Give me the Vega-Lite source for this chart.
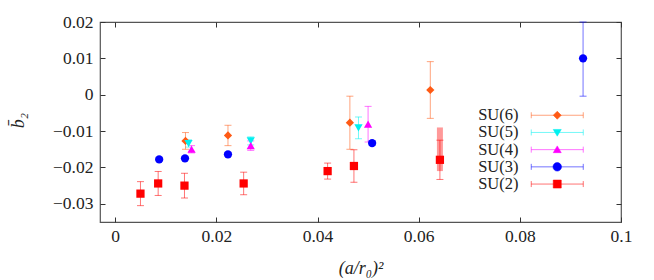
{
  "$schema": "https://vega.github.io/schema/vega-lite/v6.json",
  "width": 521,
  "height": 200,
  "autosize": {"type": "none"},
  "padding": {"left": 100, "top": 22, "right": 33, "bottom": 58},
  "background": "white",
  "config": {
    "view": {"stroke": "#555", "strokeWidth": 1.2},
    "font": "Liberation Serif",
    "axis": {"grid": false, "domain": false, "labelFont": "Liberation Serif", "titleFont": "Liberation Serif", "labelFontSize": 17.5, "titleFontSize": 18, "titleFontWeight": "normal", "labelColor": "#222", "titleColor": "#222", "tickColor": "#333", "labelFlush": false, "labelOverlap": false, "labelBound": false},
    "legend": {"labelFont": "Liberation Serif"}
  },
  "datasets": {
    "points": [
      {"series": "SU(6)", "x": 0.0139, "y": -0.0127, "lo": -0.0150, "hi": -0.0104},
      {"series": "SU(6)", "x": 0.0223, "y": -0.0112, "lo": -0.0140, "hi": -0.0084},
      {"series": "SU(6)", "x": 0.0464, "y": -0.0077, "lo": -0.0150, "hi": -0.0004},
      {"series": "SU(6)", "x": 0.0623, "y": 0.0013, "lo": -0.0065, "hi": 0.0091},
      {"series": "SU(5)", "x": 0.0145, "y": -0.0134, "lo": -0.0144, "hi": -0.0124},
      {"series": "SU(5)", "x": 0.0268, "y": -0.0127, "lo": -0.0138, "hi": -0.0116},
      {"series": "SU(5)", "x": 0.0481, "y": -0.0091, "lo": -0.0121, "hi": -0.0061},
      {"series": "SU(4)", "x": 0.0151, "y": -0.0150, "lo": -0.0160, "hi": -0.0140},
      {"series": "SU(4)", "x": 0.0268, "y": -0.0140, "lo": -0.0153, "hi": -0.0127},
      {"series": "SU(4)", "x": 0.0500, "y": -0.0081, "lo": -0.0130, "hi": -0.0032},
      {"series": "SU(3)", "x": 0.0087, "y": -0.0178, "lo": -0.0182, "hi": -0.0174},
      {"series": "SU(3)", "x": 0.0138, "y": -0.0175, "lo": -0.0179, "hi": -0.0171},
      {"series": "SU(3)", "x": 0.0223, "y": -0.0164, "lo": -0.0169, "hi": -0.0159},
      {"series": "SU(3)", "x": 0.0508, "y": -0.0133, "lo": -0.0139, "hi": -0.0127},
      {"series": "SU(3)", "x": 0.0925, "y": 0.0100, "lo": -0.0004, "hi": 0.0204},
      {"series": "SU(2)", "x": 0.0050, "y": -0.0272, "lo": -0.0305, "hi": -0.0239},
      {"series": "SU(2)", "x": 0.0085, "y": -0.0244, "lo": -0.0277, "hi": -0.0211},
      {"series": "SU(2)", "x": 0.0137, "y": -0.0250, "lo": -0.0284, "hi": -0.0216},
      {"series": "SU(2)", "x": 0.0254, "y": -0.0244, "lo": -0.0275, "hi": -0.0213},
      {"series": "SU(2)", "x": 0.0420, "y": -0.0210, "lo": -0.0232, "hi": -0.0188},
      {"series": "SU(2)", "x": 0.0472, "y": -0.0196, "lo": -0.0241, "hi": -0.0151},
      {"series": "SU(2)", "x": 0.0642, "y": -0.0179, "lo": -0.0233, "hi": -0.0125}
    ],
    "band": [
      {"series": "SU(2)", "x": 0.0642, "lo": -0.0210, "hi": -0.0090}
    ]
  },
  "layer": [
    {
      "mark": {"type": "rule", "color": "#ff6a2a", "strokeDash": [2, 3], "strokeWidth": 1.3},
      "encoding": {
        "x": {"datum": 0, "type": "quantitative",
          "scale": {"domain": [-0.003, 0.1], "nice": false, "zero": false},
          "axis": {"orient": "top", "values": [0, 0.02, 0.04, 0.06, 0.08, 0.1], "labels": false, "tickSize": -5, "title": null}}
      }
    },
    {
      "mark": {"type": "rule", "color": "#888", "strokeDash": [2, 2], "strokeWidth": 1},
      "encoding": {
        "y": {"datum": 0, "type": "quantitative",
          "scale": {"domain": [-0.035, 0.02], "nice": false, "zero": false, "clamp": true},
          "axis": {"orient": "right", "values": [-0.03, -0.02, -0.01, 0, 0.01, 0.02], "labels": false, "tickSize": -5, "title": null}}
      }
    },
    {
      "data": {"name": "band"},
      "mark": {"type": "rule", "strokeWidth": 6, "opacity": 0.4, "color": "#ff0000"},
      "encoding": {
        "x": {"field": "x", "type": "quantitative", "axis": null},
        "y": {"field": "lo", "type": "quantitative", "axis": null},
        "y2": {"field": "hi"}
      }
    },
    {
      "data": {"name": "points"},
      "mark": {"type": "errorbar", "ticks": {"size": 7}, "opacity": 0.55},
      "encoding": {
        "x": {"field": "x", "type": "quantitative", "axis": null},
        "y": {"field": "lo", "type": "quantitative", "axis": null},
        "y2": {"field": "hi"},
        "color": {"field": "series", "type": "nominal",
          "legend": {
            "orient": "none", "legendX": 449, "legendY": 85, "title": null,
            "labelAlign": "right", "labelOffset": -47, "symbolOffset": 0, "symbolOpacity": 1,
            "labelFont": "Liberation Serif", "labelFontSize": 16.5, "labelColor": "#222",
            "rowPadding": 0.2, "symbolSize": 100,
            "encode": {
              "symbols": {
                "update": {
                  "shape": {"signal": "datum.value === 'SU(6)' ? 'M-5.2,0H5.2M-5.2,-0.6V0.6M5.2,-0.6V0.6M0,-0.8L0.8,0L0,0.8L-0.8,0Z' : datum.value === 'SU(5)' ? 'M-5.2,0H5.2M-5.2,-0.6V0.6M5.2,-0.6V0.6M-0.8,-0.6L0.8,-0.6L0,0.75Z' : datum.value === 'SU(4)' ? 'M-5.2,0H5.2M-5.2,-0.6V0.6M5.2,-0.6V0.6M0,-0.75L0.8,0.6L-0.8,0.6Z' : datum.value === 'SU(3)' ? 'M-5.2,0H5.2M-5.2,-0.6V0.6M5.2,-0.6V0.6M-0.85,0A0.85,0.85,0,1,0,0.85,0A0.85,0.85,0,1,0,-0.85,0Z' : 'M-5.2,0H5.2M-5.2,-0.6V0.6M5.2,-0.6V0.6M-0.8,-0.8H0.8V0.8H-0.8Z'"},
                  "fill": {"signal": "scale('color', datum.value)"},
                  "stroke": {"signal": "scale('color', datum.value)"},
                  "strokeWidth": {"value": 1},
                  "strokeOpacity": {"value": 0.55},
                  "fillOpacity": {"value": 1},
                  "opacity": {"value": 1},
                  "size": {"value": 100}
                }
              }
            }
          }}
      }
    },
    {
      "data": {"name": "points"},
      "mark": {"type": "point", "filled": true, "opacity": 1, "size": 68},
      "encoding": {
        "x": {"field": "x", "type": "quantitative",
          "axis": {"orient": "bottom", "values": [0, 0.02, 0.04, 0.06, 0.08, 0.1], "format": ".2~f", "tickSize": -5, "labelPadding": 10, "labelFont": "Liberation Serif", "titleFont": "Liberation Serif", "title": "(a/r₀)²", "titleFontStyle": "italic", "titleY": 46, "titleBaseline": "middle"}},
        "y": {"field": "y", "type": "quantitative",
          "axis": {"orient": "left", "values": [-0.03, -0.02, -0.01, 0, 0.01, 0.02], "format": ".2~f", "tickSize": -5, "labelPadding": 12, "labelFont": "Liberation Serif", "titleFont": "Liberation Serif", "title": "b̄₂", "titleFontStyle": "italic", "titleX": -82, "titleY": 98, "titleAlign": "center", "titleBaseline": "middle"}},
        "color": {"field": "series", "type": "nominal",
          "scale": {"domain": ["SU(6)", "SU(5)", "SU(4)", "SU(3)", "SU(2)"], "range": ["#ff5a14", "#00f0f0", "#ff00ff", "#0000ff", "#ff0000"]},
          "legend": {
            "orient": "none", "legendX": 449, "legendY": 85, "title": null,
            "labelAlign": "right", "labelOffset": -47, "symbolOffset": 0, "symbolOpacity": 1,
            "labelFont": "Liberation Serif", "labelFontSize": 16.5, "labelColor": "#222",
            "rowPadding": 0.2, "symbolSize": 100,
            "encode": {
              "symbols": {
                "update": {
                  "shape": {"signal": "datum.value === 'SU(6)' ? 'M-5.2,0H5.2M-5.2,-0.6V0.6M5.2,-0.6V0.6M0,-0.8L0.8,0L0,0.8L-0.8,0Z' : datum.value === 'SU(5)' ? 'M-5.2,0H5.2M-5.2,-0.6V0.6M5.2,-0.6V0.6M-0.8,-0.6L0.8,-0.6L0,0.75Z' : datum.value === 'SU(4)' ? 'M-5.2,0H5.2M-5.2,-0.6V0.6M5.2,-0.6V0.6M0,-0.75L0.8,0.6L-0.8,0.6Z' : datum.value === 'SU(3)' ? 'M-5.2,0H5.2M-5.2,-0.6V0.6M5.2,-0.6V0.6M-0.85,0A0.85,0.85,0,1,0,0.85,0A0.85,0.85,0,1,0,-0.85,0Z' : 'M-5.2,0H5.2M-5.2,-0.6V0.6M5.2,-0.6V0.6M-0.8,-0.8H0.8V0.8H-0.8Z'"},
                  "fill": {"signal": "scale('color', datum.value)"},
                  "stroke": {"signal": "scale('color', datum.value)"},
                  "strokeWidth": {"value": 1},
                  "strokeOpacity": {"value": 0.55},
                  "fillOpacity": {"value": 1},
                  "opacity": {"value": 1},
                  "size": {"value": 100}
                }
              }
            }
          }},
        "shape": {"field": "series", "type": "nominal",
          "scale": {"range": ["square", "circle", "triangle-up", "triangle-down", "diamond"]},
          "legend": null}
      }
    }
  ],
  "resolve": {"axis": {"x": "independent", "y": "independent"}}
}
